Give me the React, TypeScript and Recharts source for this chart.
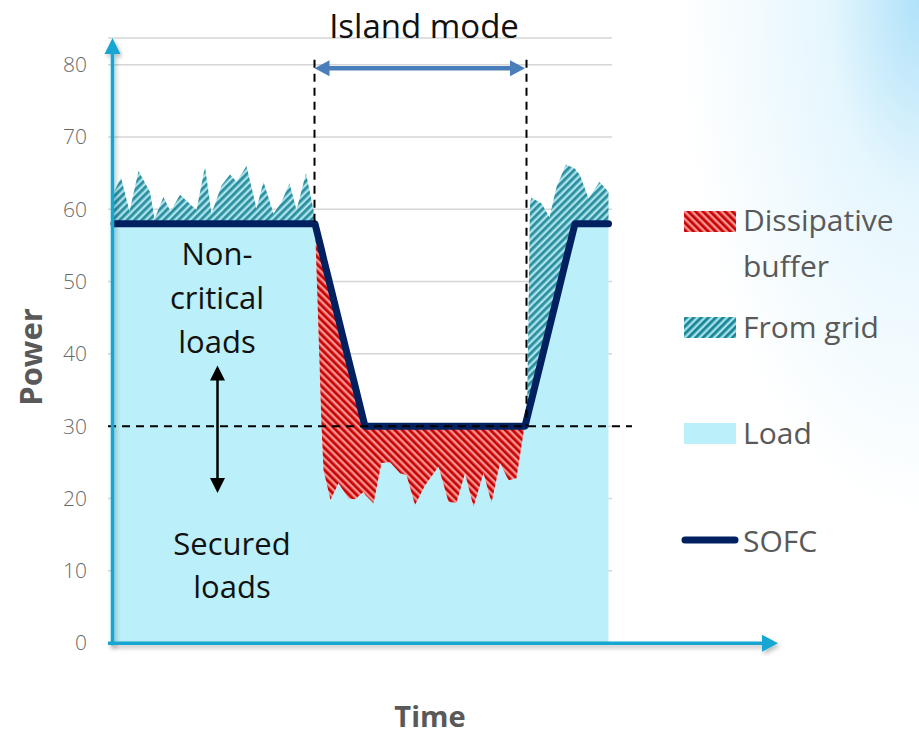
import React from 'react';
import {
  ComposedChart,
  Area,
  Line,
  XAxis,
  YAxis,
  CartesianGrid,
  ReferenceLine,
  Legend,
} from 'recharts';

// ---- data ----
const TIME = [
  0, 1.4, 3.1, 4.9, 7.2, 8.1, 9.9, 11.3, 13.2, 16.5, 18.2, 19.5, 21.5, 23.2, 24.5, 26.5,
  28.5, 29.9, 31.9, 33.5, 35.1, 36.5, 38.4, 39.9, 40.2,
  41.5, 41.9, 43.3, 44.9, 46.9, 48.2, 49.9, 50.2, 51.9, 53.5, 55.2, 57.2, 58.5, 60.2,
  62.2, 64.9, 66.9, 68.5, 70.2, 71.9, 73.9, 75.5, 77.2, 78.9, 80.5, 82.0, 82.2,
  82.6, 83.2, 83.5, 85.5, 87.1, 88.5, 90.4, 92.2, 93.2, 94.9, 97.1, 98.9,
];
const LOAD = [
  62.4, 64.4, 59.7, 65.3, 62.4, 58.7, 61.7, 59.7, 62.0, 59.9, 65.9, 59.4, 63.3, 64.8, 63.8, 66.0,
  60.1, 63.8, 59.4, 61.0, 63.6, 59.9, 65.0, 59.9, 58,
  30, 23.9, 19.8, 22.1, 20.0, 19.9, 20.9, 20.5, 19.3, 24.9, 25.0, 23.5, 23.2, 19.1,
  21.8, 24.4, 19.5, 19.4, 23.5, 18.8, 23.5, 19.4, 24.9, 22.5, 22.8, 29.5, 30,
  31.1, 61.0, 61.6, 60.8, 58.9, 63.1, 66.2, 65.6, 64.7, 61.5, 63.8, 62.4,
];
const SOFC = [
  58, 58, 58, 58, 58, 58, 58, 58, 58, 58, 58, 58, 58, 58, 58, 58,
  58, 58, 58, 58, 58, 58, 58, 58, 58,
  54.4, 53.2, 49.3, 44.8, 39.2, 35.6, 30.8, 30, 30, 30, 30, 30, 30, 30,
  30, 30, 30, 30, 30, 30, 30, 30, 30, 30, 30, 30, 30,
  31.1, 32.8, 33.6, 39.2, 43.7, 47.6, 53.0, 58, 58, 58, 58, 58,
];
const Y_TICKS = [0, 10, 20, 30, 40, 50, 60, 70, 80];
const LEGEND_NAMES = ['Dissipative buffer', 'From grid', 'Load', 'SOFC'];
const THRESHOLD = 30;
const ISLAND_START = 40.1;
const ISLAND_END = 82.5;

const TABLE = TIME.map((t, i) => {
  const load = LOAD[i];
  const sofc = SOFC[i];
  const lo = Math.min(load, sofc);
  return {
    t,
    load,
    sofc,
    base: lo,
    grid: [sofc, Math.max(load, sofc)],
    diss: [lo, sofc],
  };
});

// ---- styling ----
const FONT = '"Open Sans", "Liberation Sans", sans-serif';
const LOAD_COLOR = '#bbeff9';
const SOFC_COLOR = '#002060';
const AXIS_COLOR = '#17a6d1';
const TEXT_GRAY = '#595959';

type ArrowOpts = {
  color: string;
  width: number;
  head: number;
  half: number;
  heads: 'both' | 'maxX' | 'minY';
  shadow?: boolean;
};

function makeArrow(o: ArrowOpts) {
  return (p: any) => {
    let x1 = Number(p.x1), y1 = Number(p.y1), x2 = Number(p.x2), y2 = Number(p.y2);
    if ((o.heads === 'maxX' && x1 > x2) || (o.heads === 'minY' && y1 < y2)) {
      [x1, x2] = [x2, x1];
      [y1, y2] = [y2, y1];
    }
    const len = Math.hypot(x2 - x1, y2 - y1) || 1;
    const ux = (x2 - x1) / len;
    const uy = (y2 - y1) / len;
    const nx = -uy;
    const ny = ux;
    const tri = (tx: number, ty: number, dx: number, dy: number) => {
      const bx = tx - dx * o.head;
      const by = ty - dy * o.head;
      return `${tx},${ty} ${bx + nx * o.half},${by + ny * o.half} ${bx - nx * o.half},${by - ny * o.half}`;
    };
    const both = o.heads === 'both';
    const sx = both ? x1 + ux * (o.head - 2) : x1;
    const sy = both ? y1 + uy * (o.head - 2) : y1;
    const ex = x2 - ux * (o.head - 2);
    const ey = y2 - uy * (o.head - 2);
    return (
      <g filter={o.shadow ? 'url(#axshadow)' : undefined}>
        <line x1={sx} y1={sy} x2={ex} y2={ey} stroke={o.color} strokeWidth={o.width} />
        <polygon points={tri(x2, y2, ux, uy)} fill={o.color} />
        {both && <polygon points={tri(x1, y1, -ux, -uy)} fill={o.color} />}
      </g>
    );
  };
}

const StripeDefs = ({ prefix }: { prefix: string }) => (
  <defs>
    <pattern
      id={`${prefix}red`}
      patternUnits="userSpaceOnUse"
      width="5.2"
      height="5.2"
      patternTransform="rotate(-45)"
    >
      <rect x="0" y="0" width="5.2" height="5.2" fill="#ffaaa8" />
      <rect x="0" y="0" width="2.4" height="5.2" fill="#c40000" />
      <rect x="2.4" y="0" width="0.7" height="5.2" fill="#e04a4a" />
      <rect x="4.5" y="0" width="0.7" height="5.2" fill="#e04a4a" />
    </pattern>
    <pattern
      id={`${prefix}teal`}
      patternUnits="userSpaceOnUse"
      width="5.2"
      height="5.2"
      patternTransform="rotate(45)"
    >
      <rect x="0" y="0" width="5.2" height="5.2" fill="#bfeff7" />
      <rect x="0" y="0" width="2.4" height="5.2" fill="#168294" />
      <rect x="2.4" y="0" width="0.7" height="5.2" fill="#55b0be" />
      <rect x="4.5" y="0" width="0.7" height="5.2" fill="#55b0be" />
    </pattern>
  </defs>
);

const LegendContent = () => {
  const tx = 63;
  const fs = 30;
  return (
    <svg width={239} height={400} style={{ overflow: 'visible' }}>
      <StripeDefs prefix="lg-" />
      <rect x={4} y={21} width={52} height={21} fill="url(#lg-red)" />
      <text x={tx} y={40.5} fontFamily={FONT} fontSize={fs} fill={TEXT_GRAY}>
        {LEGEND_NAMES[0].split(' ')[0]}
      </text>
      <text x={tx} y={87} fontFamily={FONT} fontSize={fs} fill={TEXT_GRAY}>
        {LEGEND_NAMES[0].split(' ')[1]}
      </text>
      <rect x={4} y={127} width={52} height={21} fill="url(#lg-teal)" />
      <text x={tx} y={148} fontFamily={FONT} fontSize={fs} fill={TEXT_GRAY}>
        {LEGEND_NAMES[1]}
      </text>
      <rect x={4} y={233} width={52} height={21} fill={LOAD_COLOR} />
      <text x={tx} y={254} fontFamily={FONT} fontSize={fs} fill={TEXT_GRAY}>
        {LEGEND_NAMES[2]}
      </text>
      <line x1={5} y1={350} x2={55} y2={350} stroke={SOFC_COLOR} strokeWidth={7} strokeLinecap="round" />
      <text x={tx} y={361.5} fontFamily={FONT} fontSize={fs} fill={TEXT_GRAY}>
        {LEGEND_NAMES[3]}
      </text>
    </svg>
  );
};

export default function App() {
  return (
    <div
      style={{
        position: 'absolute',
        left: 0,
        top: 0,
        width: 919,
        height: 736,
        overflow: 'hidden',
        background:
          'radial-gradient(ellipse 240px 520px at 100% 0%, rgba(172,224,249,0.95) 0%, rgba(205,238,252,0.5) 38%, rgba(255,255,255,0) 100%)',
      }}
    >
      <ComposedChart
        width={919}
        height={736}
        data={TABLE}
        margin={{ top: 38, right: 141, bottom: 93, left: 0 }}
      >
        <StripeDefs prefix="ch-" />
        <defs>
          <filter id="axshadow" x="-10%" y="-10%" width="120%" height="130%">
            <feDropShadow dx="2" dy="3" stdDeviation="2" floodColor="#000" floodOpacity="0.25" />
          </filter>
        </defs>
        <CartesianGrid
          x={108}
          width={504}
          vertical={false}
          stroke="#d6d6d6"
          strokeWidth={1.5}
        />
        <XAxis dataKey="t" type="number" domain={[0, 132.8]} hide />
        <YAxis
          type="number"
          domain={[0, 83.7]}
          ticks={Y_TICKS}
          width={114}
          axisLine={false}
          tickLine={false}
          tickSize={6}
          tickMargin={21}
          tick={{ fill: '#6a6a6a', fontSize: 21, fontFamily: FONT, fontWeight: 300 }}
          allowDataOverflow
        />
        <Area
          dataKey="base"
          type="linear"
          fill={LOAD_COLOR}
          fillOpacity={1}
          stroke="none"
          isAnimationActive={false}
          dot={false}
          activeDot={false}
        />
        <Area
          dataKey="grid"
          type="linear"
          fill="url(#ch-teal)"
          fillOpacity={0.92}
          stroke="none"
          isAnimationActive={false}
          dot={false}
          activeDot={false}
        />
        <Area
          dataKey="diss"
          type="linear"
          fill="url(#ch-red)"
          fillOpacity={1}
          stroke="none"
          isAnimationActive={false}
          dot={false}
          activeDot={false}
        />
        <Line
          dataKey="sofc"
          type="linear"
          stroke={SOFC_COLOR}
          strokeWidth={7}
          strokeLinecap="round"
          strokeLinejoin="round"
          dot={false}
          activeDot={false}
          isAnimationActive={false}
        />
        {/* threshold dashed line */}
        <ReferenceLine
          segment={[{ x: -1.2, y: THRESHOLD }, { x: 103.6, y: THRESHOLD }]}
          stroke="#000"
          strokeWidth={2}
          strokeDasharray="8 6"
          ifOverflow="visible"
        />
        {/* island mode boundaries */}
        <ReferenceLine
          segment={[{ x: ISLAND_START, y: 80.7 }, { x: ISLAND_START, y: 58 }]}
          stroke="#000"
          strokeWidth={2}
          strokeDasharray="8 6"
          ifOverflow="visible"
        />
        <ReferenceLine
          segment={[{ x: ISLAND_END, y: 80.7 }, { x: ISLAND_END, y: 30 }]}
          stroke="#000"
          strokeWidth={2}
          strokeDasharray="8 6"
          ifOverflow="visible"
        />
        <ReferenceLine
          segment={[{ x: ISLAND_START, y: 79.5 }, { x: 82.2, y: 79.5 }]}
          ifOverflow="visible"
          shape={makeArrow({ color: '#4a7ebb', width: 4.5, head: 15, half: 8, heads: 'both' })}
        />
        {/* non-critical / secured arrow */}
        <ReferenceLine
          segment={[{ x: 20.7, y: 38.4 }, { x: 20.7, y: 20.75 }]}
          ifOverflow="visible"
          shape={makeArrow({ color: '#000', width: 2.5, head: 15, half: 7.5, heads: 'both' })}
        />
        {/* axes with arrows */}
        <ReferenceLine
          segment={[{ x: -0.3, y: -0.3 }, { x: -0.3, y: 83.7 }]}
          ifOverflow="visible"
          shape={makeArrow({ color: AXIS_COLOR, width: 3.5, head: 16, half: 8, heads: 'minY', shadow: true })}
        />
        <ReferenceLine
          segment={[{ x: -1.2, y: -0.05 }, { x: 132.8, y: -0.05 }]}
          ifOverflow="visible"
          shape={makeArrow({ color: AXIS_COLOR, width: 3.5, head: 16, half: 8.5, heads: 'maxX', shadow: true })}
        />
        <Legend
          layout="horizontal"
          verticalAlign="middle"
          align="center"
          content={<LegendContent />}
          wrapperStyle={{ position: 'absolute', left: 680, top: 190, width: 239, height: 400 }}
        />
      </ComposedChart>
      <svg
        width={919}
        height={736}
        style={{ position: 'absolute', left: 0, top: 0, pointerEvents: 'none' }}
      >
        <text x={424} y={38} textAnchor="middle" fontFamily={FONT} fontSize={33} fill="#111">
          Island mode
        </text>
        <g fontFamily={FONT} fontSize={31} fill="#111" textAnchor="middle">
          <text x={217} y={265}>Non-</text>
          <text x={217} y={308.5}>critical</text>
          <text x={217} y={352.5}>loads</text>
          <text x={232} y={555}>Secured</text>
          <text x={232} y={598}>loads</text>
        </g>
        <text
          x={42}
          y={357}
          transform="rotate(-90 42 357)"
          textAnchor="middle"
          fontFamily={FONT}
          fontWeight="bold"
          fontSize={31}
          fill={TEXT_GRAY}
        >
          Power
        </text>
        <text x={430} y={727} textAnchor="middle" fontFamily={FONT} fontWeight="bold" fontSize={29} fill={TEXT_GRAY}>
          Time
        </text>
      </svg>
    </div>
  );
}
